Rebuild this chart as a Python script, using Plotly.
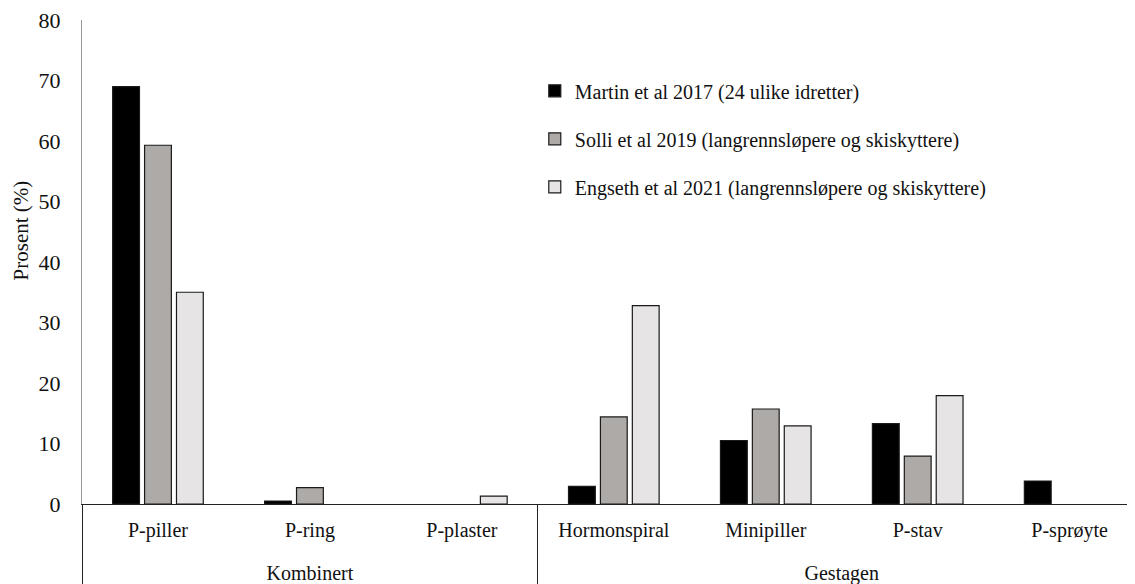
#!/usr/bin/env python3
"""Bruk av hormonell prevensjon blant idrettsutøvere - grouped bar chart"""

import plotly.graph_objects as go

FONT = 'Liberation Serif, Times New Roman, serif'

# Data
groups = ['Kombinert', 'Kombinert', 'Kombinert',
          'Gestagen', 'Gestagen', 'Gestagen', 'Gestagen']
methods = ['P-piller', 'P-ring', 'P-plaster',
           'Hormonspiral', 'Minipiller', 'P-stav', 'P-sprøyte']

martin = [69.0, 0.5, None, 2.9, 10.5, 13.3, 3.8]
solli = [59.3, 2.7, None, 14.4, 15.7, 7.9, None]
engseth = [35.0, None, 1.3, 32.8, 12.9, 17.9, None]

series_names = ['Martin et al 2017 (24 ulike idretter)',
                'Solli et al 2019 (langrennsløpere og skiskyttere)',
                'Engseth et al 2021 (langrennsløpere og skiskyttere)']
series_values = [martin, solli, engseth]
series_colors = ['#000000', '#ADAAA8', '#E6E4E5']

# extra line in front of the group names pushes them further down
group_labels = ['<br>' + g for g in groups]

fig = go.Figure()
for i, (name, vals, col) in enumerate(zip(series_names, series_values, series_colors)):
    fig.add_trace(go.Bar(
        x=[group_labels, methods],
        y=vals,
        name=name,
        legendgroup=f'g{i}',
        marker=dict(color=col, line=dict(color='#1a1a1a', width=1.2)),
    ))

# y axis title as annotation (sits a bit above the middle in the original)
fig.add_annotation(
    text='Prosent (%)', textangle=-90,
    xref='paper', yref='paper', x=-0.058, y=0.565,
    xanchor='center', yanchor='middle', showarrow=False,
    font=dict(family=FONT, size=21, color='#111111'),
)

# page body adds an 8px margin, so the figure is made 8px smaller
fig.update_layout(
    width=1127, height=576,
    barmode='group',
    bargap=0.37,
    bargroupgap=0.16,
    plot_bgcolor='white',
    paper_bgcolor='white',
    font=dict(family=FONT, size=20, color='#111111'),
    margin=dict(l=74, r=0, t=12, b=80, autoexpand=False),
    showlegend=True,
    legend=dict(x=0.43, y=0.894, xanchor='left', yanchor='top',
                traceorder='grouped', tracegroupgap=19,
                font=dict(family=FONT, size=20, color='#111111'),
                bgcolor='rgba(0,0,0,0)'),
    xaxis=dict(
        type='multicategory',
        range=[-0.5, 6.43],
        automargin=False,
        showgrid=False,
        showline=True, linecolor='#222222', linewidth=1.2,
        ticks='',
        ticklabelstandoff=8,
        ticklabeloverflow='allow',
        showdividers=True, dividercolor='#222222', dividerwidth=1,
        tickfont=dict(family=FONT, size=20, color='#111111'),
        zeroline=False,
    ),
    yaxis=dict(
        range=[0, 80], dtick=10,
        automargin=False,
        showgrid=False,
        showline=True, linecolor='#999999', linewidth=1.2,
        ticks='',
        ticklabelstandoff=16,
        ticklabeloverflow='allow',
        tickfont=dict(family=FONT, size=22, color='#111111'),
        zeroline=False,
    ),
)

fig.write_html("out.html")
